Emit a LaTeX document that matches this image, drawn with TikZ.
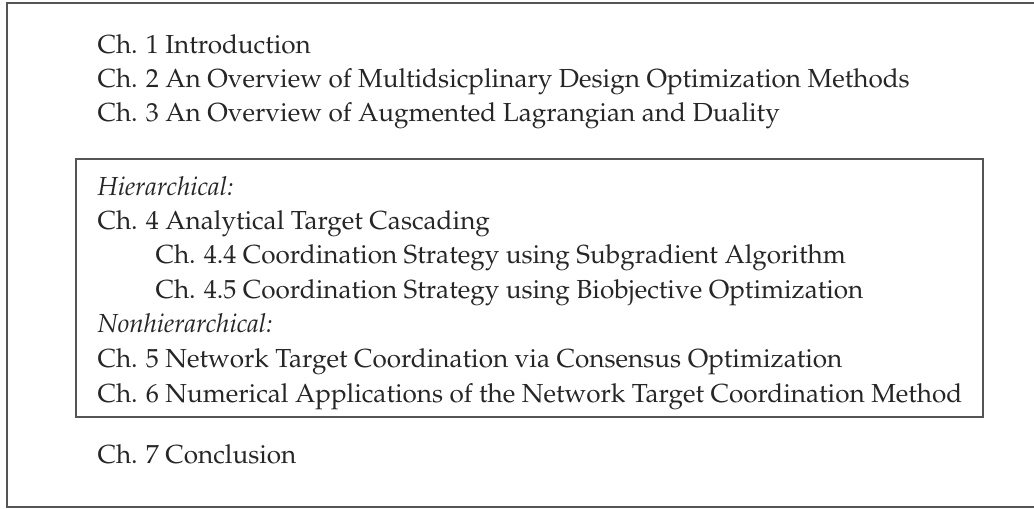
\documentclass[tikz,border=0pt]{standalone}
\usepackage[T1]{fontenc}
\usepackage{mathpazo}
\usepackage{tikz}
\usetikzlibrary{positioning}
\definecolor{frameDraw}{HTML}{555555}
\tikzset{
  font=\fontsize{10.18}{12}\selectfont,
  chap/.style ={anchor=base west, inner sep=0pt, text=black!85},
  sect/.style ={chap},
  part/.style ={chap, font=\fontsize{10.18}{12}\selectfont\itshape},
  frame/.style={draw=frameDraw, line width=0.75pt},
}

\begin{document}
\begin{tikzpicture}[x=0.39pt, y=-0.39pt]
  \useasboundingbox (0,0) rectangle (1034,508);

  % outer frame (right edge runs off the page)
  \draw[frame] (7,3) rectangle (1045,507);

  % opening chapters
  \node[chap] (ch1) at (97,53)  {Ch. 1 Introduction};
  \node[chap] (ch2) at (97,87)  {Ch. 2 An Overview of Multidsicplinary Design Optimization Methods};
  \node[chap] (ch3) at (97,121) {Ch. 3 An Overview of Augmented Lagrangian and Duality};

  % decomposition methods (boxed)
  \draw[frame] (76,159) rectangle (983,417);
  \node[part] (hier) at (97,195)  {Hierarchical:};
  \node[chap] (ch4)  at (97,229)  {Ch. 4 Analytical Target Cascading};
  \node[sect] (s44)  at (155,263) {Ch. 4.4 Coordination Strategy using Subgradient Algorithm};
  \node[sect] (s45)  at (155,298) {Ch. 4.5 Coordination Strategy using Biobjective Optimization};
  \node[part] (nonh) at (97,332)  {Nonhierarchical:};
  \node[chap] (ch5)  at (97,367)  {Ch. 5 Network Target Coordination via Consensus Optimization};
  \node[chap] (ch6)  at (97,402)  {Ch. 6 Numerical Applications of the Network Target Coordination Method};

  % closing chapter
  \node[chap] (ch7) at (97,463) {Ch. 7 Conclusion};
\end{tikzpicture}
\end{document}
